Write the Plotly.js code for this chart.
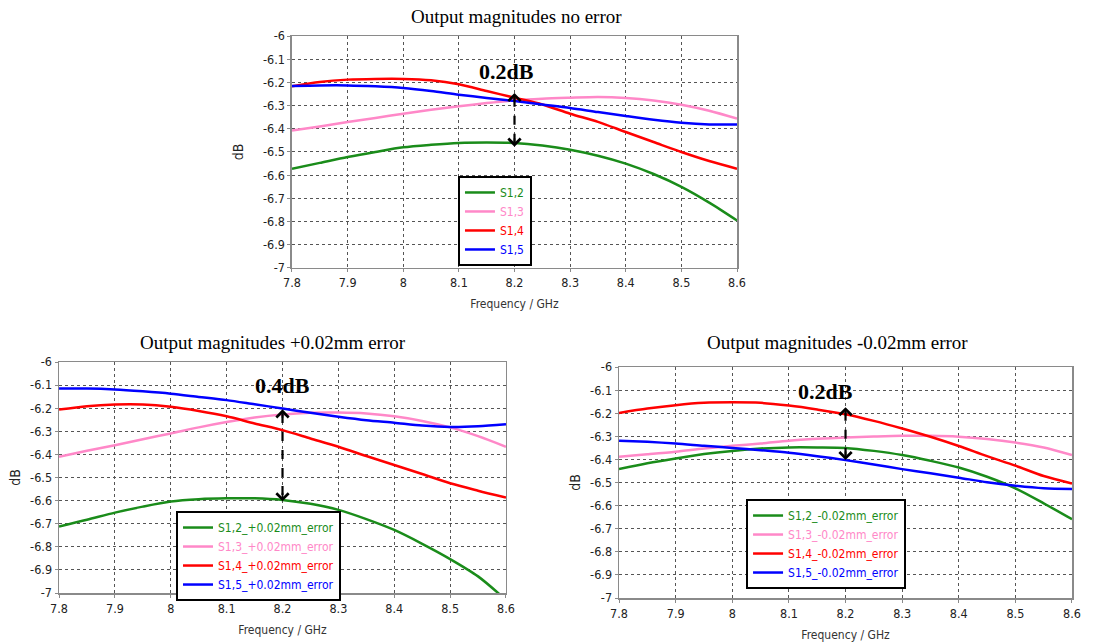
<!DOCTYPE html>
<html>
<head>
<meta charset="utf-8">
<script src="https://cdn.plot.ly/plotly-3.0.1.min.js"></script>
<style>html,body{margin:0;padding:0;background:#fff}#chart{width:1114px;height:642px}</style>
</head>
<body>
<div id="chart"></div>
<script>
// ---- data ----
const freq = [7.8,7.85,7.9,7.95,8.0,8.05,8.1,8.15,8.2,8.25,8.3,8.35,8.4,8.45,8.5,8.55,8.6];

// no error
const s12_noerr = [-6.572,-6.547,-6.522,-6.500,-6.480,-6.469,-6.461,-6.459,-6.461,-6.472,-6.490,-6.516,-6.550,-6.595,-6.650,-6.718,-6.795];
const s13_noerr = [-6.407,-6.390,-6.371,-6.353,-6.335,-6.318,-6.303,-6.289,-6.277,-6.270,-6.266,-6.263,-6.267,-6.278,-6.296,-6.322,-6.356];
const s14_noerr = [-6.217,-6.198,-6.188,-6.185,-6.185,-6.191,-6.208,-6.237,-6.266,-6.295,-6.335,-6.370,-6.414,-6.457,-6.500,-6.539,-6.572];
const s15_noerr = [-6.215,-6.213,-6.213,-6.217,-6.224,-6.237,-6.253,-6.267,-6.280,-6.295,-6.310,-6.328,-6.345,-6.361,-6.374,-6.381,-6.381];

// +0.02mm error
const s12_plus = [-6.712,-6.683,-6.652,-6.626,-6.604,-6.594,-6.590,-6.590,-6.597,-6.614,-6.640,-6.680,-6.727,-6.787,-6.853,-6.928,-7.030];
const s13_plus = [-6.410,-6.384,-6.360,-6.334,-6.309,-6.283,-6.260,-6.240,-6.227,-6.220,-6.219,-6.223,-6.235,-6.255,-6.283,-6.321,-6.367];
const s14_plus = [-6.206,-6.191,-6.184,-6.184,-6.194,-6.212,-6.235,-6.266,-6.295,-6.331,-6.367,-6.407,-6.446,-6.485,-6.525,-6.557,-6.587];
const s15_plus = [-6.115,-6.115,-6.119,-6.127,-6.137,-6.151,-6.165,-6.183,-6.201,-6.220,-6.237,-6.252,-6.263,-6.275,-6.281,-6.278,-6.269];

// -0.02mm error
const s12_minus = [-6.442,-6.417,-6.396,-6.377,-6.363,-6.353,-6.348,-6.348,-6.350,-6.363,-6.381,-6.406,-6.435,-6.475,-6.525,-6.590,-6.659];
const s13_minus = [-6.388,-6.378,-6.367,-6.353,-6.341,-6.331,-6.319,-6.311,-6.305,-6.301,-6.298,-6.298,-6.302,-6.312,-6.327,-6.348,-6.381];
const s14_minus = [-6.199,-6.180,-6.165,-6.155,-6.153,-6.155,-6.167,-6.184,-6.204,-6.233,-6.266,-6.302,-6.342,-6.386,-6.427,-6.472,-6.504];
const s15_minus = [-6.319,-6.324,-6.331,-6.341,-6.350,-6.360,-6.371,-6.386,-6.403,-6.422,-6.442,-6.460,-6.479,-6.499,-6.514,-6.525,-6.528];

const seriesNames = ['S1,2','S1,3','S1,4','S1,5'];
const suffixPlus = '_+0.02mm_error';
const suffixMinus = '_-0.02mm_error';
const chartTitles = ['Output magnitudes no error','Output magnitudes +0.02mm error','Output magnitudes -0.02mm error'];
const xTickVals = [7.8,7.9,8.0,8.1,8.2,8.3,8.4,8.5,8.6];
const xTickLabels = ['7.8','7.9','8','8.1','8.2','8.3','8.4','8.5','8.6'];
const yTickVals = [-6,-6.1,-6.2,-6.3,-6.4,-6.5,-6.6,-6.7,-6.8,-6.9,-7];
const yTickLabels = ['-6','-6.1','-6.2','-6.3','-6.4','-6.5','-6.6','-6.7','-6.8','-6.9','-7'];
const xTitle = 'Frequency / GHz';
const yTitle = 'dB';
// difference annotations
const diffLabels = ['0.2dB','0.4dB','0.2dB'];
const diffTop = [-6.246,-6.205,-6.174];
const diffBottom = [-6.477,-6.603,-6.403];
const diffX = [8.2,8.2,8.2];
const diffLabelX = [8.185,8.2,8.165];
const diffLabelY = [-6.155,-6.10,-6.104];

// ---- styles ----
const colors = ['#1a8c1a','#ff88c8','#ff0000','#0000ff'];
const fam = 'DejaVu Sans Condensed, DejaVu Sans, sans-serif';
const tickFont = {family:fam, size:12.5, color:'#222'};
const legendFont = {family:fam, size:12};

const groups = [
  {ys:[s12_noerr,s13_noerr,s14_noerr,s15_noerr], suffix:'', xa:'x', ya:'y', leg:'legend'},
  {ys:[s12_plus,s13_plus,s14_plus,s15_plus], suffix:suffixPlus, xa:'x2', ya:'y2', leg:'legend2'},
  {ys:[s12_minus,s13_minus,s14_minus,s15_minus], suffix:suffixMinus, xa:'x3', ya:'y3', leg:'legend3'}
];

const traces = [];
groups.forEach(g => {
  g.ys.forEach((ys, i) => {
    traces.push({
      x: freq, y: ys, type:'scatter', mode:'lines',
      line:{color:colors[i], width:2.5, shape:'spline', smoothing:0.8},
      name:'<span style="color:'+colors[i]+'">'+seriesNames[i]+g.suffix+'</span>',
      xaxis:g.xa, yaxis:g.ya, legend:g.leg, hoverinfo:'x+y'
    });
  });
});

function xAxis(domain, anchor, standoff){
  return {domain:domain, anchor:anchor, range:[7.8,8.6], tickvals:xTickVals, ticktext:xTickLabels,
    showgrid:true, gridcolor:'#555', griddash:'dot', gridwidth:1,
    showline:true, linecolor:'#8a8a8a', linewidth:1.5, mirror:true, zeroline:false,
    ticks:'outside', ticklen:3, tickcolor:'#8a8a8a', tickfont:tickFont,
    title:{text:xTitle, font:{family:fam, size:12, color:'#333'}, standoff:standoff}};
}
function yAxis(domain, anchor, standoff){
  return {domain:domain, anchor:anchor, range:[-7,-6], tickvals:yTickVals, ticktext:yTickLabels,
    showgrid:true, gridcolor:'#555', griddash:'dot', gridwidth:1,
    showline:true, linecolor:'#8a8a8a', linewidth:1.5, mirror:true, zeroline:false,
    ticks:'outside', ticklen:3, tickcolor:'#8a8a8a', tickfont:tickFont,
    title:{text:yTitle, font:{family:fam, size:14, color:'#222'}, standoff:standoff}};
}
function legendBox(x, y){
  return {x:x, y:y, xanchor:'left', yanchor:'top', bgcolor:'#fff', bordercolor:'#000', borderwidth:2,
    font:legendFont, tracegroupgap:0, itemwidth:30};
}

const annotations = [];
const titlePos = [[0.4638,0.975],[0.245,0.466],[0.752,0.466]];
chartTitles.forEach((t,i)=>{
  annotations.push({text:t, xref:'paper', yref:'paper', x:titlePos[i][0], y:titlePos[i][1],
    xanchor:'center', yanchor:'middle', showarrow:false,
    font:{family:'Liberation Serif, Times New Roman, serif', size:19, color:'#000'}});
});
const shapes = [];
const axNames = [['x','y'],['x2','y2'],['x3','y3']];
diffLabels.forEach((lab,i)=>{
  const [xr, yr] = axNames[i];
  annotations.push({text:'<b>'+lab+'</b>', xref:xr, yref:yr, x:diffLabelX[i], y:diffLabelY[i],
    showarrow:false, font:{family:'Liberation Serif, Times New Roman, serif', size:22, color:'#000'}});
  shapes.push({type:'line', xref:xr, yref:yr, x0:diffX[i], x1:diffX[i], y0:diffTop[i]-0.02, y1:diffBottom[i]+0.02,
    line:{color:'#000', width:2.2, dash:'dash'}});
  annotations.push({text:'', xref:xr, yref:yr, x:diffX[i], y:diffTop[i], ax:0, ay:10,
    showarrow:true, arrowhead:4, arrowsize:1.4, arrowwidth:1.7, arrowcolor:'#000'});
  annotations.push({text:'', xref:xr, yref:yr, x:diffX[i], y:diffBottom[i], ax:0, ay:-10,
    showarrow:true, arrowhead:4, arrowsize:1.4, arrowwidth:1.7, arrowcolor:'#000'});
});

const layout = {
  width:1114, height:642, margin:{l:0,r:0,t:0,b:0}, paper_bgcolor:'#fff', plot_bgcolor:'#fff',
  showlegend:true,
  xaxis: xAxis([0.2621,0.6616],'y',10),
  yaxis: yAxis([0.5826,0.9439],'x',16),
  xaxis2: xAxis([0.0530,0.4542],'y2',11),
  yaxis2: yAxis([0.0763,0.4361],'x2',6),
  xaxis3: xAxis([0.5557,0.9623],'y3',11),
  yaxis3: yAxis([0.0685,0.4283],'x3',6),
  legend: legendBox(0.4111,0.7259),
  legend2: legendBox(0.158,0.204),
  legend3: legendBox(0.6697,0.2227),
  annotations: annotations,
  shapes: shapes
};

Plotly.newPlot('chart', traces, layout, {displayModeBar:false, staticPlot:true});
</script>
</body>
</html>
